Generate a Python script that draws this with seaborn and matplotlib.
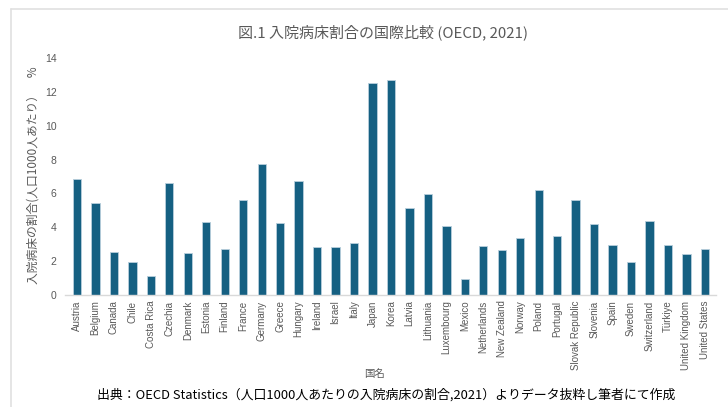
import matplotlib
matplotlib.use("Agg")
import matplotlib.pyplot as plt
import seaborn as sns
import pandas as pd
from matplotlib.lines import Line2D

countries = ["Austria", "Belgium", "Canada", "Chile", "Costa Rica", "Czechia", "Denmark",
             "Estonia", "Finland", "France", "Germany", "Greece", "Hungary", "Ireland",
             "Israel", "Italy", "Japan", "Korea", "Latvia", "Lithuania", "Luxembourg",
             "Mexico", "Netherlands", "New Zealand", "Norway", "Poland", "Portugal",
             "Slovak Republic", "Slovenia", "Spain", "Sweden", "Switzerland", "Türkiye",
             "United Kingdom", "United States"]
beds = [6.85, 5.45, 2.54, 1.93, 1.12, 6.60, 2.46,
        4.33, 2.72, 5.59, 7.72, 4.23, 6.75, 2.85,
        2.85, 3.07, 12.54, 12.68, 5.12, 5.98, 4.08,
        0.96, 2.89, 2.64, 3.37, 6.20, 3.48,
        5.63, 4.19, 2.93, 1.97, 4.37, 2.97,
        2.40, 2.74]
yticks = [0, 2, 4, 6, 8, 10, 12, 14]

title = "図.1 入院病床割合の国際比較 (OECD, 2021)"
ylabel = "入院病床の割合(人口1000人あたり）　%"
xlabel = "国名"
footer = "出典：OECD Statistics（人口1000人あたりの入院病床の割合,2021）よりデータ抜粋し筆者にて作成"

sns.set_theme(style="white")
plt.rcParams['font.family'] = ['Noto Sans CJK JP', 'DejaVu Sans']

df = pd.DataFrame({"country": countries, "beds": beds})

W, H = 728, 407
fig = plt.figure(figsize=(W / 100, H / 100), dpi=100)
ax = fig.add_axes([65 / W, 1 - 295 / H, (716 - 65) / W, (295 - 58) / H])

sns.barplot(data=df, x="country", y="beds", color="#156082", width=0.45,
            edgecolor="#b8cfdc", linewidth=0.6, saturation=1, ax=ax)

ax.set_ylim(0, 14)
ax.set_yticks(yticks)
ax.set_xlim(-0.65, len(countries) - 0.4)
ax.set_xlabel("")
ax.set_ylabel("")
for s in ["top", "right", "left"]:
    ax.spines[s].set_visible(False)
ax.spines["bottom"].set_color("#d9d9d9")
ax.spines["bottom"].set_linewidth(1.0)
ax.tick_params(axis="both", length=0, colors="#595959")
ax.tick_params(axis="y", labelsize=7.5, pad=6)
ax.tick_params(axis="x", labelsize=7, pad=4)
for lab in ax.get_xticklabels() + ax.get_yticklabels():
    lab.set_family(["Liberation Sans", "DejaVu Sans"])
plt.setp(ax.get_xticklabels(), rotation=90)
ax.grid(False)

fig.text(383 / W, 1 - 32 / H, title, ha="center", va="center", fontsize=10.8, color="#595959")
fig.text(33 / W, 1 - 175 / H, ylabel, ha="center", va="center", rotation=90,
         fontsize=8.5, color="#595959")
fig.text(375 / W, 1 - 374 / H, xlabel, ha="center", va="center", fontsize=7.5, color="#595959")
fig.text(386 / W, 1 - 395 / H, footer, ha="center", va="center", fontsize=9.3, color="black")

fig.add_artist(Line2D([11 / W, 11 / W], [0, 1 - 9 / H], transform=fig.transFigure,
                      color="#e0e0e0", linewidth=1.2))
fig.add_artist(Line2D([11 / W, 1], [1 - 9 / H, 1 - 9 / H], transform=fig.transFigure,
                      color="#e0e0e0", linewidth=1.2))

fig.savefig("out.png", dpi=100, facecolor="white")
